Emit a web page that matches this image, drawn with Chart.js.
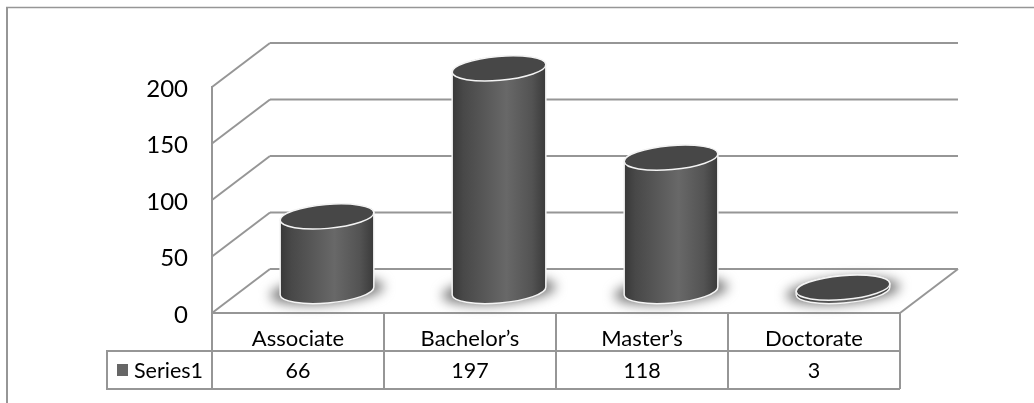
<!DOCTYPE html>
<html>
<head>
<meta charset="utf-8">
<style>
html, body { margin: 0; padding: 0; background: #fff; }
#wrap { width: 1034px; height: 403px; }
</style>
<script src="https://cdn.jsdelivr.net/npm/chart.js@4"></script>
</head>
<body>
<div id="wrap"><canvas id="chart" width="1034" height="403"></canvas></div>
<script>
const categories = ['Associate', 'Bachelor\u2019s', 'Master\u2019s', 'Doctorate'];
const seriesName = 'Series1';
const seriesValues = [66, 197, 118, 3];
const yTicks = [0, 50, 100, 150, 200];

const LINE = '#969696';
const DEPTH_X = 58;
const DEPTH_Y = -44;
const RX = 47;
const RY = 12;
const TILT = -0.085;
const ROW1 = 351;
const ROW2 = 389;
const TABLE_LEFT = 107;

function line(ctx, x1, y1, x2, y2) {
    ctx.beginPath();
    ctx.moveTo(x1, y1);
    ctx.lineTo(x2, y2);
    ctx.stroke();
}

// bars sit half way into the floor
function cylinderGeom(bar) {
    return {
        cx: bar.x + DEPTH_X / 2,
        top: bar.y + DEPTH_Y / 2,
        bottom: bar.base + DEPTH_Y / 2
    };
}

function cylinderPath(ctx, g) {
    ctx.moveTo(g.cx + RX * Math.cos(TILT), g.bottom + RX * Math.sin(TILT));
    ctx.ellipse(g.cx, g.bottom, RX, RY, TILT, 0, Math.PI);
    ctx.ellipse(g.cx, g.top, RX, RY, TILT, Math.PI, Math.PI * 2);
    ctx.closePath();
}

function barGradient(ctx, cx) {
    const grad = ctx.createLinearGradient(cx - RX, 0, cx + RX, 0);
    grad.addColorStop(0, '#383838');
    grad.addColorStop(0.12, '#484848');
    grad.addColorStop(0.58, '#686868');
    grad.addColorStop(0.85, '#535353');
    grad.addColorStop(1, '#3a3a3a');
    return grad;
}

const cylinderPlugin = {
    id: 'cylinders',
    beforeDraw(chart) {
        // Lato sits a little high against the ticks, nudge the labels down
        const y = chart.scales.y;
        y._labelItems = y._computeLabelItems(chart.chartArea);
        y._labelItems.forEach(item => { item.textOffset += 2; });
    },
    beforeDatasetsDraw(chart) {
        const ctx = chart.ctx;
        const area = chart.chartArea;
        const y = chart.scales.y;
        ctx.save();
        // chart frame
        ctx.strokeStyle = LINE;
        ctx.lineWidth = 2;
        line(ctx, 7, 8, 7, 403);
        ctx.lineWidth = 1.5;
        line(ctx, 6, 7.5, 1034, 7.5);
        // walls and floor
        ctx.lineWidth = 2;
        yTicks.forEach(v => {
            const py = y.getPixelForValue(v);
            line(ctx, area.left, py, area.left + DEPTH_X, py + DEPTH_Y);
            line(ctx, area.left + DEPTH_X, py + DEPTH_Y, area.right + DEPTH_X, py + DEPTH_Y);
        });
        line(ctx, area.right, area.bottom, area.right + DEPTH_X, area.bottom + DEPTH_Y);
        // floor shadows
        chart.getDatasetMeta(0).data.forEach(bar => {
            const g = cylinderGeom(bar);
            ctx.save();
            ctx.filter = 'blur(6px)';
            ctx.fillStyle = '#7a7a7a';
            ctx.beginPath();
            ctx.ellipse(g.cx, g.bottom, RX + 10, RY + 1, TILT, 0, Math.PI * 2);
            ctx.fill();
            ctx.restore();
        });
        ctx.restore();
    },
    beforeDatasetDraw(chart) {
        const ctx = chart.ctx;
        const bars = chart.getDatasetMeta(0).data;
        ctx.save();
        // round off the rectangles to the cylinder outline
        ctx.beginPath();
        bars.forEach(bar => cylinderPath(ctx, cylinderGeom(bar)));
        ctx.clip();
        bars.forEach(bar => {
            const g = cylinderGeom(bar);
            ctx.fillStyle = barGradient(ctx, g.cx);
            ctx.fillRect(g.cx - RX - 1, g.top - RY - 5, RX * 2 + 2, g.bottom - g.top + RY * 2 + 10);
        });
        ctx.translate(DEPTH_X / 2, DEPTH_Y / 2);
    },
    afterDatasetDraw(chart) {
        const ctx = chart.ctx;
        ctx.restore();
        ctx.save();
        chart.getDatasetMeta(0).data.forEach(bar => {
            const g = cylinderGeom(bar);
            ctx.strokeStyle = '#f4f4f4';
            ctx.lineWidth = 1.5;
            ctx.beginPath();
            cylinderPath(ctx, g);
            ctx.stroke();
            ctx.fillStyle = '#474747';
            ctx.beginPath();
            ctx.ellipse(g.cx, g.top, RX, RY, TILT, 0, Math.PI * 2);
            ctx.fill();
            ctx.stroke();
        });
        ctx.restore();
    },
    afterDraw(chart) {
        const ctx = chart.ctx;
        const area = chart.chartArea;
        const x = chart.scales.x;
        const step = (area.right - area.left) / categories.length;
        ctx.save();
        ctx.strokeStyle = LINE;
        ctx.lineWidth = 2;
        // data table
        line(ctx, area.left, area.bottom, area.left, ROW2);
        for (let i = 1; i <= categories.length; i++) {
            line(ctx, area.left + step * i, area.bottom, area.left + step * i, ROW2);
        }
        line(ctx, TABLE_LEFT, ROW1, area.right, ROW1);
        line(ctx, TABLE_LEFT, ROW2, area.right, ROW2);
        line(ctx, TABLE_LEFT, ROW1 - 1, TABLE_LEFT, ROW2 + 1);
        ctx.fillStyle = '#666666';
        ctx.fillRect(117, 364, 11, 12);
        ctx.fillStyle = '#000';
        ctx.font = '21.5px Lato';
        ctx.textBaseline = 'middle';
        ctx.textAlign = 'left';
        ctx.fillText(seriesName, 134, 371);
        ctx.textAlign = 'center';
        seriesValues.forEach((v, i) => {
            ctx.fillText(String(v), x.getPixelForValue(i), 371);
        });
        ctx.restore();
    }
};

new Chart(document.getElementById('chart'), {
    type: 'bar',
    plugins: [cylinderPlugin],
    data: {
        labels: categories,
        datasets: [{
            label: seriesName,
            data: seriesValues,
            barPercentage: 0.546,
            categoryPercentage: 1,
            clip: false,
            backgroundColor(c) {
                const px = c.chart.scales.x ? c.chart.scales.x.getPixelForValue(c.dataIndex) : NaN;
                return Number.isFinite(px) ? barGradient(c.chart.ctx, px) : '#666666';
            }
        }]
    },
    options: {
        responsive: false,
        animation: false,
        layout: { padding: { left: 0, right: 134, top: 87, bottom: 0 } },
        plugins: { legend: { display: false }, tooltip: { enabled: false } },
        scales: {
            x: {
                grid: { display: false },
                border: { display: true, color: LINE, width: 2 },
                ticks: {
                    color: '#000',
                    font: { family: 'Lato', size: 22 },
                    padding: 5,
                    maxRotation: 0,
                    autoSkip: false
                },
                afterFit(scale) {
                    scale.height = 90;
                    scale.paddingLeft = scale.paddingRight = 0;
                }
            },
            y: {
                min: 0,
                max: 200,
                afterBuildTicks(scale) {
                    scale.ticks = yTicks.map(v => ({ value: v }));
                },
                grid: { display: false },
                border: { display: true, color: LINE, width: 2 },
                ticks: {
                    color: '#000',
                    font: { family: 'Lato', size: 24 },
                    padding: 16
                },
                afterFit(scale) {
                    scale.width = 212;
                    scale.paddingTop = scale.paddingBottom = 0;
                }
            }
        }
    }
});
</script>
</body>
</html>
